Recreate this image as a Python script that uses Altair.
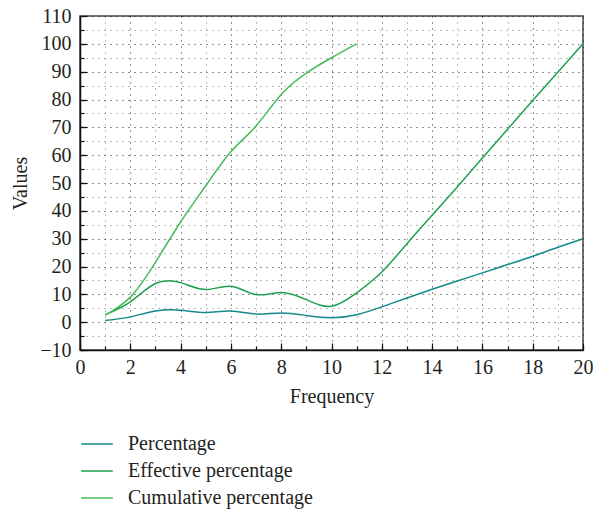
import altair as alt
import pandas as pd

freq_all = list(range(1, 21))
freq_cum = list(range(1, 12))

percentage = [0.6, 1.9, 4.0, 4.3, 3.5, 4.0, 2.9, 3.3, 2.4, 1.6,
              2.7, 5.5, 8.7, 11.8, 14.8, 17.7, 20.7, 23.7, 26.9, 30.0]
effective = [2.7, 7.3, 13.9, 14.2, 11.7, 12.9, 9.9, 10.7, 8.1, 5.7,
             10.5, 18.0, 28.2, 38.4, 48.6, 59.0, 69.3, 79.6, 89.8, 100.0]
cumulative = [2.5, 9.0, 21.5, 36.0, 49.0, 61.2, 70.5, 81.8, 89.5, 95.0, 100.0]

series_names = ["Percentage", "Effective percentage", "Cumulative percentage"]
series_colors = ["#15898c", "#1fa050", "#45bd55"]

x_ticks = list(range(0, 21))
x_major = list(range(0, 21, 2))
y_ticks = list(range(-10, 111, 5))
y_major = list(range(-10, 111, 10))

rows = []
for f, v in zip(freq_all, percentage):
    rows.append({"Frequency": f, "Values": v, "Series": series_names[0]})
for f, v in zip(freq_all, effective):
    rows.append({"Frequency": f, "Values": v, "Series": series_names[1]})
for f, v in zip(freq_cum, cumulative):
    rows.append({"Frequency": f, "Values": v, "Series": series_names[2]})
df = pd.DataFrame(rows)

FONT = "Liberation Serif"
TXT = "#231f20"

xscale = alt.Scale(domain=[0, 20], nice=False)
yscale = alt.Scale(domain=[-10, 110], nice=False)

lines = alt.Chart(df).mark_line(interpolate="natural", strokeWidth=1.5).encode(
    x=alt.X("Frequency:Q", scale=xscale,
            axis=alt.Axis(values=x_ticks, title="Frequency", orient="bottom",
                          labelExpr="datum.value % 2 == 0 ? datum.label : ''",
                          labelFlush=False,
                          grid=True, gridDash=[1, 5],
                          gridColor=alt.condition("datum.value % 2 == 0", alt.value("#222"), alt.value("#777")),
                          gridWidth=1,
                          tickSize=0, labelPadding=7, titlePadding=9,
                          domainColor="#111", domainWidth=1.5)),
    y=alt.Y("Values:Q", scale=yscale,
            axis=alt.Axis(values=y_ticks, title="Values", orient="left",
                          labelExpr="datum.value % 10 == 0 ? datum.label : ''",
                          labelFlush=False,
                          grid=True, gridDash=[1, 5],
                          gridColor=alt.condition("datum.value % 10 == 0", alt.value("#222"), alt.value("#777")),
                          gridWidth=1,
                          tickSize=0, labelPadding=9, titlePadding=9,
                          domainColor="#111", domainWidth=1.5)),
    color=alt.Color("Series:N",
                    scale=alt.Scale(domain=series_names, range=series_colors),
                    sort=series_names,
                    legend=alt.Legend(title=None, orient="none", legendX=0, legendY=411,
                                      symbolType="stroke", symbolSize=1000,
                                      symbolStrokeWidth=1.5, labelFontSize=20,
                                      labelFont=FONT, labelColor=TXT, labelOffset=14,
                                      labelLimit=0, rowPadding=-1, padding=0)),
)


def tick_layer(xvals, yvals, size):
    return alt.Chart(df).mark_line(opacity=0).encode(
        x=alt.X("Frequency:Q", scale=xscale,
                axis=alt.Axis(values=xvals, orient="bottom", offset=-size, tickSize=size,
                              tickColor="#111", tickWidth=1.2, labels=False, domain=False,
                              grid=False, title=None)),
        y=alt.Y("Values:Q", scale=yscale,
                axis=alt.Axis(values=yvals, orient="left", offset=-size, tickSize=size,
                              tickColor="#111", tickWidth=1.2, labels=False, domain=False,
                              grid=False, title=None)),
        detail="Series:N",
    )


chart = alt.layer(
    lines,
    tick_layer(x_ticks, y_ticks, 4),
    tick_layer(x_major, y_major, 7),
).resolve_axis(x="independent", y="independent").properties(
    width=503, height=334,
    autosize=alt.AutoSizeParams(type="none"),
    padding={"left": 80, "top": 16, "right": 10, "bottom": 161},
).configure_axis(
    labelFont=FONT, titleFont=FONT, labelFontSize=20, titleFontSize=20,
    labelColor=TXT, titleColor=TXT, titleFontWeight="normal",
).configure_view(
    stroke="#444", strokeWidth=1.5
)

chart.save("out.html", embed_options={"renderer": "svg", "actions": False})
